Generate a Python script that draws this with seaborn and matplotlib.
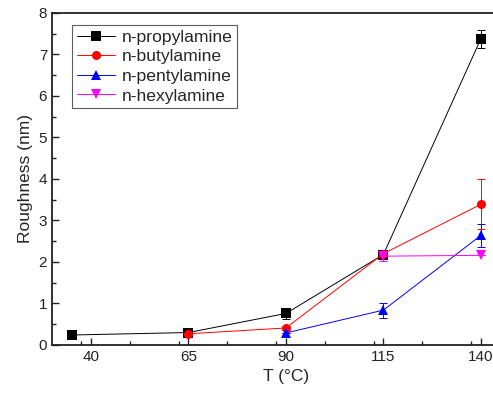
import matplotlib
matplotlib.use("Agg")
import matplotlib.pyplot as plt
import seaborn as sns
import pandas as pd
import numpy as np
from matplotlib.ticker import MultipleLocator

sns.set_theme(style="ticks")
plt.rcParams['font.family'] = ['Liberation Sans', 'DejaVu Sans']

series = ["n-propylamine", "n-butylamine", "n-pentylamine", "n-hexylamine"]
temps = {
    "n-propylamine": [35, 65, 90, 115, 140],
    "n-butylamine": [65, 90, 115, 140],
    "n-pentylamine": [90, 115, 140],
    "n-hexylamine": [115, 140],
}
rough = {
    "n-propylamine": [0.24, 0.30, 0.76, 2.18, 7.38],
    "n-butylamine": [0.27, 0.41, 2.20, 3.39],
    "n-pentylamine": [0.29, 0.84, 2.64],
    "n-hexylamine": [2.14, 2.16],
}
errs = {
    "n-propylamine": [0.0, 0.04, 0.13, 0.10, 0.22],
    "n-butylamine": [0.0, 0.05, 0.08, 0.60],
    "n-pentylamine": [0.0, 0.18, 0.27],
    "n-hexylamine": [0.12, 0.0],
}
colors = {"n-propylamine": "black", "n-butylamine": "red",
          "n-pentylamine": "blue", "n-hexylamine": "magenta"}
markers = {"n-propylamine": "s", "n-butylamine": "o",
           "n-pentylamine": "^", "n-hexylamine": "v"}

rows = []
for s in series:
    for t, r, e in zip(temps[s], rough[s], errs[s]):
        rows.append({"T": t, "R": r, "err": e, "amine": s})
df = pd.DataFrame(rows)

fig = plt.figure(figsize=(4.93, 4.01), dpi=100)
ax = fig.add_axes([0.1055, 0.1397, 0.949, 0.828])

for s in series:
    d = df[df.amine == s]
    ax.errorbar(d["T"], d["R"], yerr=d["err"], fmt="none", ecolor=colors[s],
                elinewidth=0.7, capsize=3, capthick=0.7, zorder=2)

sns.lineplot(data=df, x="T", y="R", hue="amine", style="amine",
             hue_order=series, style_order=series,
             palette=colors, markers=markers, dashes=False,
             markersize=6.5, linewidth=0.7, markeredgewidth=0,
             ax=ax, zorder=3)

ax.set_xlim(30, 150)
ax.set_ylim(0, 8)
ax.set_xticks([40, 65, 90, 115, 140])
ax.xaxis.set_minor_locator(MultipleLocator(12.5))
ax.yaxis.set_major_locator(MultipleLocator(1))
ax.yaxis.set_minor_locator(MultipleLocator(0.5))
ax.tick_params(which="both", direction="in", top=False, right=False,
               labelsize=11, colors="#222222")
ax.tick_params(which="major", length=5, width=1)
ax.tick_params(which="minor", length=3, width=1)
for sp in ax.spines.values():
    sp.set_linewidth(1.3)
    sp.set_color("#222222")
ax.set_xlabel("T (°C)", fontsize=12.5)
ax.set_ylabel("Roughness (nm)", fontsize=12.5)

leg = ax.legend(title=None, loc="upper left", bbox_to_anchor=(0.025, 0.99),
                fontsize=12.6, frameon=True, fancybox=False, edgecolor="#333333",
                handlelength=2.2, borderpad=0.25, labelspacing=0.25, handletextpad=0.35)
leg.get_frame().set_linewidth(0.8)

fig.savefig("out.png", dpi=100)
